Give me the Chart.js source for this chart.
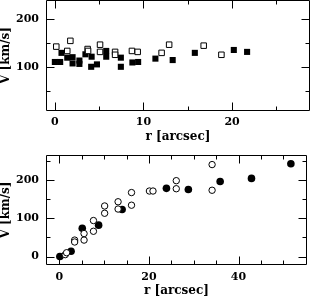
<!DOCTYPE html>
<html><head><meta charset="utf-8">
<script src="https://cdn.jsdelivr.net/npm/chart.js@4/dist/chart.umd.min.js"></script>
<style>
html,body{margin:0;padding:0;background:#fff;}
#wrap{position:relative;width:310px;height:297px;overflow:hidden;background:#fff;}
.p{position:absolute;left:0;width:310px;}
#b1{top:0;height:150px;}
#b2{top:145px;height:152px;}
canvas{display:block;}
</style></head><body>
<div id="wrap">
<div class="p" id="b1"><canvas id="c1" width="310" height="150"></canvas></div>
<div class="p" id="b2"><canvas id="c2" width="310" height="152"></canvas></div>
</div>
<script>
// ---- Top panel data (r [arcsec], V [km/s]) ----
const topFilledR = [0.0, 0.6, 0.75, 1.4, 2.0, 2.0, 2.77, 2.77, 3.45, 4.15, 4.1, 4.75, 5.8, 5.8, 7.45, 7.45, 8.75, 9.4, 11.35, 13.3, 15.8, 20.2, 21.7];
const topFilledV = [111, 111, 130, 120, 121, 108, 114, 107, 127, 122, 101, 106, 134, 122, 120, 101, 110, 111, 118, 115, 130, 136, 132];
const topOpenR = [0.16, 1.4, 1.75, 3.7, 3.75, 5.1, 5.1, 6.8, 6.8, 8.7, 9.35, 12.05, 12.9, 16.8, 18.8];
const topOpenV = [143, 134, 155, 138, 134, 147, 132, 132, 126, 134, 132, 130, 147, 145, 126];
// ---- Bottom panel data ----
const botFilledR = [0.1, 2.6, 5.1, 8.75, 14.0, 23.9, 28.8, 35.9, 42.9, 51.7];
const botFilledV = [0, 14, 74, 82, 123, 178, 175, 196, 204, 242];
const botOpenR = [1.3, 1.6, 3.4, 3.4, 5.5, 5.5, 7.6, 7.6, 10.1, 10.1, 13.1, 13.1, 16.1, 16.1, 20.1, 20.9, 26.1, 26.1, 34.1, 34.1];
const botOpenV = [5, 10, 43, 38, 43, 60, 66, 94, 113, 132, 143, 124, 134, 167, 171, 171, 198, 177, 240, 173];
// ---- Ticks ----
const topXMajor = [0, 10, 20];
const topXMinor = [5, 15, 25];
const topYMajor = [100, 200];
const topYMinor = [50, 150];
const botXMajor = [0, 20, 40];
const botXMinor = [5, 10, 15, 25, 30, 35, 45, 50];
const botYMajor = [0, 100, 200];
const botYMinor = [50, 150, 250];
const xTitle = 'r [arcsec]';
const yTitle = 'V [km/s]';

const pts = (xs, ys) => xs.map((x, i) => ({x: x, y: ys[i]}));
const TICKFONT = {family: 'DejaVu Serif', size: 11, weight: 'bold'};
const TITLEFONT = {family: 'DejaVu Serif', size: 12, weight: 'bold', lineHeight: 1};

const frame = {
  id: 'frame',
  beforeDatasetsDraw(chart) {
    const o = chart.options.plugins.frame;
    const {ctx, chartArea: a} = chart;
    const sx = chart.scales.x, sy = chart.scales.y;
    const L = a.left + 0.5, R = a.right - 0.5, T = a.top + 0.5, B = a.bottom - 0.5;
    ctx.save();
    ctx.strokeStyle = '#000';
    ctx.lineWidth = 1;
    ctx.beginPath();
    ctx.rect(L, T, R - L, B - T);
    const xt = (vals, len) => vals.forEach(v => {
      const p = Math.round(sx.getPixelForValue(v)) + 0.5;
      ctx.moveTo(p, B); ctx.lineTo(p, B - len);
      ctx.moveTo(p, T); ctx.lineTo(p, T + len);
    });
    const yt = (vals, len) => vals.forEach(v => {
      const p = Math.round(sy.getPixelForValue(v)) + 0.5;
      ctx.moveTo(L, p); ctx.lineTo(L + len, p);
      ctx.moveTo(R, p); ctx.lineTo(R - len, p);
    });
    xt(o.xMajor, 8); xt(o.xMinor, 4);
    yt(o.yMajor, 8); yt(o.yMinor, 4);
    ctx.stroke();
    ctx.restore();
  }
};

const noPad = s => { s.paddingTop = 0; s.paddingBottom = 0; s.paddingLeft = 0; s.paddingRight = 0; };

function panel(id, cfg) {
  return new Chart(document.getElementById(id), {
    type: 'scatter',
    data: {datasets: cfg.datasets},
    options: {
      responsive: false,
      animation: false,
      events: [],
      layout: {padding: cfg.pad, autoPadding: false},
      plugins: {
        legend: {display: false},
        tooltip: {enabled: false},
        frame: {xMajor: cfg.xMajor, xMinor: cfg.xMinor, yMajor: cfg.yMajor, yMinor: cfg.yMinor}
      },
      scales: {
        x: {
          type: 'linear', min: cfg.xMin, max: cfg.xMax,
          afterBuildTicks: s => { s.ticks = cfg.xMajor.map(v => ({value: v})); },
          afterFit: s => { s.height = cfg.xH; noPad(s); },
          grid: {display: false, drawTicks: false},
          border: {display: false},
          ticks: {font: TICKFONT, color: '#000', padding: cfg.xTickPad, maxRotation: 0, autoSkip: false},
          title: {display: true, text: xTitle, font: TITLEFONT, color: '#000', padding: {top: 0, bottom: cfg.xTitlePad}}
        },
        y: {
          type: 'linear', min: cfg.yMin, max: cfg.yMax,
          afterBuildTicks: s => { s.ticks = cfg.yMajor.map(v => ({value: v})); },
          afterFit: s => { s.width = 46; noPad(s); },
          grid: {display: false, drawTicks: false},
          border: {display: false},
          ticks: {font: TICKFONT, color: '#000', padding: 7, autoSkip: false},
          title: {display: true, text: yTitle, font: TITLEFONT, color: '#000', padding: {top: 0, bottom: 0}}
        }
      }
    },
    plugins: [frame]
  });
}

panel('c1', {
  datasets: [
    {data: pts(topOpenR, topOpenV), pointStyle: 'rect', pointRadius: 3.9, backgroundColor: '#fff', borderColor: '#000', pointBorderWidth: 1},
    {data: pts(topFilledR, topFilledV), pointStyle: 'rect', pointRadius: 4.3, backgroundColor: '#000', borderColor: '#000', pointBorderWidth: 0}
  ],
  pad: {left: 0, right: 0, top: 0, bottom: 0},
  xMin: -1, xMax: 28.8, yMin: 9, yMax: 240, xH: 39,
  xTickPad: 5, xTitlePad: 7,
  xMajor: topXMajor, xMinor: topXMinor, yMajor: topYMajor, yMinor: topYMinor
});

panel('c2', {
  datasets: [
    {data: pts(botOpenR, botOpenV), pointStyle: 'circle', pointRadius: 3.2, backgroundColor: '#fff', borderColor: '#000', pointBorderWidth: 1},
    {data: pts(botFilledR, botFilledV), pointStyle: 'circle', pointRadius: 3.8, backgroundColor: '#000', borderColor: '#000', pointBorderWidth: 0}
  ],
  pad: {left: 0, right: 3, top: 10, bottom: 0},
  xMin: -3, xMax: 55.3, yMin: -22, yMax: 265, xH: 32,
  xTickPad: 6, xTitlePad: 0.5,
  xMajor: botXMajor, xMinor: botXMinor, yMajor: botYMajor, yMinor: botYMinor
});
</script>
</body></html>
